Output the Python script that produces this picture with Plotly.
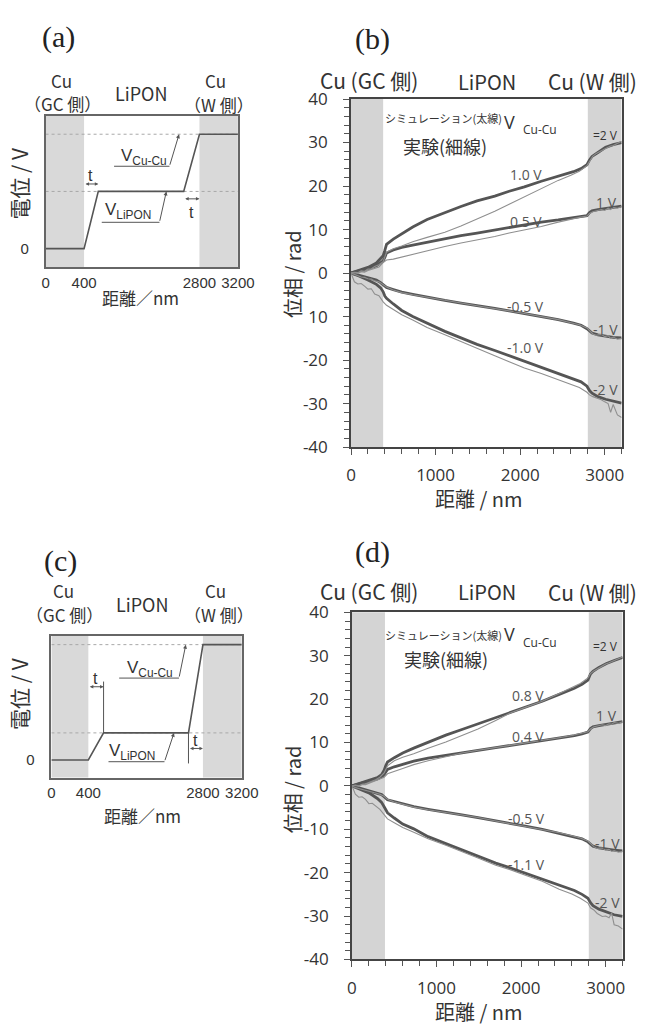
import plotly.graph_objects as go

W, H = 657, 1034

# ---------------- data ----------------
SCH_TICK_TEXT = ["0", "400", "2800", "3200"]
A_TICK_POS = [0, 1.0, 4.0, 5]
A_RAMP_X = [0, 1.0, 1.37, 3.59, 4.0, 5]
A_RAMP_V = [0, 0, 1.0, 1.0, 2.0, 2.0]
C_TICK_POS = [0, 0.97, 3.98, 5]
C_RAMP_X = [0, 0.97, 1.37, 3.6, 3.98, 5]
C_RAMP_V = [0, 0, 0.47, 0.47, 2.0, 2.0]

SIM_X = [0, 100, 200, 300, 350, 380, 400, 420, 500, 600, 730, 900, 1110, 1300, 1490,
         1700, 1870, 2050, 2250, 2450, 2630, 2720, 2790, 2820, 2850, 2920, 3010, 3100, 3200]
EXP_X = [0, 40, 80, 120, 160, 200, 240, 280, 330, 380, 420, 500, 600, 730, 900, 1110,
         1300, 1490, 1700, 1870, 2050, 2250, 2450, 2600, 2700, 2790, 2820, 2860, 2900,
         2960, 3000, 3040, 3070, 3100, 3150, 3200]

B_SIM = {
    "2V": [0, 0.6, 1.3, 2.3, 3.3, 4.0, 5.2, 6.6, 7.8, 9.0, 10.6, 12.3, 13.9, 15.3, 16.6,
           17.7, 18.8, 19.8, 21.1, 22.2, 23.3, 24.0, 24.9, 26.0, 26.8, 27.7, 28.9, 29.5, 30.0],
    "1V": [0, 0.5, 1.0, 1.7, 2.3, 2.8, 3.6, 4.6, 5.3, 5.9, 6.4, 7.1, 7.9, 8.6, 9.2,
           9.9, 10.6, 11.1, 11.7, 12.2, 12.7, 12.9, 13.2, 13.9, 14.3, 14.6, 14.9, 15.2, 15.4],
    "-1V": [0, -0.5, -1.1, -1.6, -2.2, -2.6, -3.0, -3.3, -3.8, -4.4, -4.9, -5.6, -6.3, -6.9, -7.4,
            -8.1, -8.7, -9.3, -9.9, -10.7, -11.5, -12.0, -12.8, -13.3, -13.8, -14.2, -14.5, -14.8, -14.9],
    "-2V": [0, -0.7, -1.6, -2.6, -3.4, -4.3, -5.3, -5.8, -7.1, -8.6, -10.0, -11.6, -13.4, -14.9, -16.4,
            -17.8, -19.0, -20.2, -21.6, -23.0, -24.3, -25.0, -26.0, -27.0, -27.6, -28.4, -29.0, -29.5, -29.9],
}
B_EXP = {
    "2V": [0, 0.2, 0.1, 0.5, 0.4, 0.9, 1.0, 1.5, 1.9, 2.6, 4.8, 5.6, 6.2, 7.2, 8.2, 9.4,
           10.8, 12.4, 14.2, 15.8, 17.5, 19.5, 21.3, 22.5, 23.4, 24.7, 25.8, 26.9, 27.5,
           28.2, 28.5, 28.9, 29.2, 29.3, 29.8, 30.3],
    "1V": [0, 0.1, -0.1, 0.3, 0.2, 0.6, 0.8, 1.0, 1.4, 2.4, 3.0, 3.2, 3.7, 4.2, 5.1, 6.1,
           6.9, 7.6, 8.4, 9.2, 9.9, 10.7, 11.7, 12.4, 12.8, 13.1, 13.7, 14.1, 14.3,
           14.6, 14.4, 14.9, 14.6, 15.1, 14.9, 15.3],
    "-1V": [0, -0.3, -0.5, -0.9, -1.0, -1.3, -1.4, -1.8, -2.0, -2.6, -3.2, -3.9, -4.5, -5.0, -5.6, -6.3,
            -6.9, -7.5, -8.1, -8.7, -9.3, -10.0, -10.7, -11.4, -11.9, -12.6, -13.3, -14.0, -14.3,
            -14.1, -14.6, -14.4, -15.0, -14.7, -15.2, -15.0],
    "-2V": [0, -2.0, -2.5, -2.4, -3.0, -3.7, -3.6, -4.8, -5.2, -6.6, -7.4, -8.3, -9.6, -10.8, -12.5, -14.2,
            -15.8, -17.4, -19.0, -20.4, -21.8, -23.1, -24.6, -25.6, -26.3, -27.4, -28.0, -28.4, -28.7,
            -29.1, -29.6, -30.0, -32.0, -30.2, -32.6, -33.2],
}
D_SIM = {
    "2V": [0, 0.6, 1.2, 1.9, 2.6, 3.6, 4.7, 5.5, 6.5, 7.6, 8.7, 10.1, 11.7, 13.0, 14.3,
           15.7, 16.9, 18.1, 19.5, 21.1, 22.5, 23.4, 24.4, 25.8, 26.4, 27.3, 28.2, 28.9, 29.6],
    "1V": [0, 0.5, 1.0, 1.6, 2.1, 2.6, 3.2, 3.8, 4.4, 5.0, 5.7, 6.4, 7.1, 7.7, 8.2,
           8.8, 9.3, 9.9, 10.5, 11.1, 11.6, 12.0, 12.4, 13.2, 13.6, 13.9, 14.2, 14.5, 14.8],
    "-1V": [0, -0.6, -1.2, -1.7, -2.0, -2.5, -2.9, -3.2, -3.6, -4.2, -4.8, -5.4, -6.0, -6.7, -7.3,
            -8.1, -8.7, -9.3, -10.0, -10.9, -11.7, -12.2, -12.9, -13.4, -13.9, -14.3, -14.6, -14.8, -15.0],
    "-2V": [0, -0.8, -1.6, -2.9, -3.8, -4.8, -5.6, -6.2, -7.4, -8.8, -9.9, -11.7, -13.3, -14.8, -16.3,
            -17.8, -18.9, -20.1, -21.5, -22.9, -24.1, -25.0, -25.9, -26.9, -27.6, -28.4, -29.1, -29.7, -30.1],
}
D_EXP = {
    "2V": [0, 0.2, 0.0, 0.4, 0.5, 0.8, 1.0, 1.4, 2.0, 3.0, 4.6, 5.8, 6.6, 7.4, 8.7, 10.1,
           11.6, 13.1, 15.1, 16.8, 18.1, 19.5, 21.3, 22.6, 23.6, 24.9, 25.9, 26.5, 27.0,
           27.7, 28.1, 28.4, 28.6, 28.9, 29.3, 29.7],
    "1V": [0, 0.1, -0.1, 0.3, 0.3, 0.6, 0.8, 1.1, 1.5, 2.0, 2.8, 3.4, 4.0, 4.9, 5.8, 6.7,
           7.6, 8.2, 8.8, 9.3, 9.9, 10.5, 11.1, 11.6, 12.0, 12.5, 13.1, 13.6, 13.8,
           14.1, 13.9, 14.3, 14.2, 14.6, 14.4, 14.8],
    "-1V": [0, -0.4, -0.6, -0.8, -1.1, -1.2, -1.5, -1.6, -1.9, -2.4, -3.1, -3.7, -4.3, -4.9, -5.5, -6.1,
            -6.7, -7.3, -8.1, -8.7, -9.3, -10.0, -10.8, -11.5, -12.0, -12.7, -13.3, -14.0, -14.4,
            -14.3, -14.8, -14.6, -15.1, -14.9, -15.3, -15.1],
    "-2V": [0, -1.9, -2.6, -2.5, -3.1, -4.1, -4.0, -4.6, -5.4, -6.6, -7.6, -8.5, -9.6, -10.7, -12.2, -13.7,
            -15.1, -16.6, -18.3, -19.3, -20.6, -22.0, -23.8, -24.9, -25.9, -27.0, -28.1, -28.6, -29.4,
            -30.1, -30.0, -30.4, -29.3, -32.0, -32.3, -33.0],
}
B_LIPON_LEFT, B_LIPON_RIGHT = 380, 2800
D_LIPON_LEFT, D_LIPON_RIGHT = 390, 2800
PHASE_TICKS = [-40, -30, -20, -10, 0, 10, 20, 30, 40]
B_PHASE_TEXT = ["-40", "-30", "-20", "10", "0", "10", "20", "30", "40"]
D_PHASE_TEXT = ["-40", "-30", "-20", "-10", "0", "10", "20", "30", "40"]
DIST_TICKS = [0, 1000, 2000, 3000]

B_LABELS = [("1.0 V", 539, 166), ("1 V", 622, 195), ("0.5 V", 539, 214), ("-0.5 V", 539, 301),
            ("-1 V", 621, 325), ("-1.0 V", 539, 343), ("-2 V", 621, 386)]
D_LABELS = [("0.8 V", 541, 699), ("1 V", 622, 720), ("0.4 V", 541, 741), ("-0.5 V", 540, 825),
            ("-1 V", 623, 850), ("-1.1 V", 540, 872), ("-2 V", 623, 911)]

# ---------------- helpers ----------------
def PX(x):
    return x / W

def PY(y):
    return 1 - y / H

JP = "Noto Sans CJK JP"
SANS = "Open Sans"
TXT = "#333333"
THICK = "#555555"
THIN = "#8f8f8f"

fig = go.Figure()
annotations = []
shapes = []

def text(t, x, y, size, family=JP, color=TXT, angle=0, xanchor="center"):
    annotations.append(dict(text=t, x=PX(x), y=PY(y), xref="paper", yref="paper",
                            showarrow=False, xanchor=xanchor, yanchor="middle",
                            textangle=angle, font=dict(family=family, size=size, color=color)))

# ---------------- schematic panels ----------------
def schematic(xa, ya, tick_pos, ramp_x, ramp_v, dom_x, dom_y, yr, lead, tarrows, ext):
    xn = "x" + xa[5:]
    yn = "y" + ya[5:]
    for x0, x1 in [(tick_pos[0], tick_pos[1]), (tick_pos[2], tick_pos[3])]:
        shapes.append(dict(type="rect", xref=xn, yref=yn + " domain", x0=x0, x1=x1, y0=0, y1=1,
                           fillcolor="#d9d9d9", line=dict(width=0), layer="below"))
    for lvl in [ramp_v[2], ramp_v[-1]]:
        fig.add_trace(go.Scatter(x=[tick_pos[0], tick_pos[-1]], y=[lvl, lvl], mode="lines",
                                 line=dict(color="#a8a8a8", width=1, dash="dot"),
                                 xaxis=xn, yaxis=yn, showlegend=False, hoverinfo="skip"))
    fig.add_trace(go.Scatter(x=ramp_x, y=ramp_v, mode="lines",
                             line=dict(color="#555555", width=1.6),
                             xaxis=xn, yaxis=yn, showlegend=False, hoverinfo="skip"))
    common = dict(showgrid=False, zeroline=False, showline=True, mirror=True,
                  linecolor="#666666", linewidth=1.5, ticks="", fixedrange=True,
                  tickfont=dict(family="Liberation Sans", size=15, color=TXT))
    fig.layout[xa] = dict(domain=dom_x, range=[tick_pos[0], tick_pos[-1]], anchor=yn,
                          tickmode="array", tickvals=tick_pos, ticktext=SCH_TICK_TEXT,
                          ticklabelstandoff=1, **common)
    fig.layout[ya] = dict(domain=dom_y, range=yr, anchor=xn, tickmode="array",
                          tickvals=[0], ticktext=["0"], ticklabelstandoff=12, **common)
    for lab, ux0, ux1, uy, tipx, tipv, tx, ty in lead:
        shapes.append(dict(type="line", xref=xn, yref=yn, x0=ux0, x1=ux1, y0=uy, y1=uy,
                           line=dict(color="#555555", width=1)))
        annotations.append(dict(x=tipx, y=tipv, ax=ux1, ay=uy, xref=xn, yref=yn, axref=xn,
                                ayref=yn, text="", showarrow=True, arrowhead=2, arrowsize=0.8,
                                arrowwidth=1, arrowcolor="#555555"))
        annotations.append(dict(x=tx, y=ty, xref=xn, yref=yn, text=lab, showarrow=False,
                                font=dict(family="Liberation Sans", size=17, color=TXT)))
    for x0, x1, yv, tlx, tly in tarrows:
        annotations.append(dict(x=x1, y=yv, ax=x0, ay=yv, xref=xn, yref=yn, axref=xn, ayref=yn,
                                text="", showarrow=True, arrowhead=2, arrowside="end+start",
                                arrowsize=0.7, arrowwidth=1, arrowcolor="#555555",
                                standoff=0, startstandoff=0))
        annotations.append(dict(x=tlx, y=tly, xref=xn, yref=yn, text="t", showarrow=False,
                                font=dict(family="Liberation Sans", size=16, color=TXT)))
    for ex, ey0, ey1 in ext:
        shapes.append(dict(type="line", xref=xn, yref=yn, x0=ex, x1=ex, y0=ey0, y1=ey1,
                           line=dict(color="#555555", width=1)))

schematic("xaxis", "yaxis", A_TICK_POS, A_RAMP_X, A_RAMP_V,
          [PX(42), PX(241)], [PY(261), PY(106)], [-0.325, 2.325],
          lead=[("V<sub>Cu-Cu</sub>", 1.78, 3.22, 1.44, 3.47, A_RAMP_V[-1], 2.56, 1.6),
                ("V<sub>LiPON</sub>", 1.46, 2.96, 0.46, 3.14, A_RAMP_V[2], 2.14, 0.66)],
          tarrows=[(A_RAMP_X[1], A_RAMP_X[2], 1.13, 1.18, 1.27),
                   (A_RAMP_X[3], A_RAMP_X[4], 0.87, 3.79, 0.63)],
          ext=[])
schematic("xaxis3", "yaxis3", C_TICK_POS, C_RAMP_X, C_RAMP_V,
          [PX(48), PX(245)], [PY(783), PY(638)], [-0.305, 2.153],
          lead=[("V<sub>Cu-Cu</sub>", 1.78, 3.35, 1.42, 3.53, C_RAMP_V[-1], 2.59, 1.58),
                ("V<sub>LiPON</sub>", 1.50, 2.97, -0.03, 3.22, C_RAMP_V[2], 2.11, 0.13)],
          tarrows=[(C_RAMP_X[1], C_RAMP_X[2], 1.27, 1.16, 1.42),
                   (C_RAMP_X[3], C_RAMP_X[4], 0.20, 3.79, 0.33)],
          ext=[(C_RAMP_X[2], C_RAMP_V[2], 1.36), (C_RAMP_X[3], C_RAMP_V[3], -0.06)])

# ---------------- phase panels ----------------
def phase(xa, ya, sim, exp, left, right, dom_x, dom_y, ticktext):
    xn = "x" + xa[5:]
    yn = "y" + ya[5:]
    for x0, x1 in [(0, left), (right, 3200)]:
        shapes.append(dict(type="rect", xref=xn, yref=yn + " domain", x0=x0, x1=x1, y0=0, y1=1,
                           fillcolor="#d4d4d4", line=dict(width=0), layer="below"))
    for k in ["2V", "1V", "-1V", "-2V"]:
        fig.add_trace(go.Scatter(x=SIM_X, y=sim[k], mode="lines",
                                 line=dict(color=THICK, width=2.8),
                                 xaxis=xn, yaxis=yn, showlegend=False, hoverinfo="skip"))
    for k in ["2V", "1V", "-1V", "-2V"]:
        fig.add_trace(go.Scatter(x=EXP_X, y=exp[k], mode="lines",
                                 line=dict(color=THIN, width=1.1),
                                 xaxis=xn, yaxis=yn, showlegend=False, hoverinfo="skip"))
    common = dict(showgrid=False, zeroline=False, showline=True, mirror=True,
                  linecolor="#444444", linewidth=1.6, ticks="outside", ticklen=6,
                  tickcolor="#555555", tickwidth=1, fixedrange=True,
                  tickfont=dict(family=SANS, size=17, color=TXT))
    fig.layout[xa] = dict(domain=dom_x, range=[0, 3200], anchor=yn, tickmode="array",
                          tickvals=DIST_TICKS, ticktext=[str(v) for v in DIST_TICKS],
                          ticklabelstandoff=6,
                          minor=dict(tickmode="linear", tick0=0, dtick=200, ticks="outside",
                                     ticklen=5, tickcolor="#555555", tickwidth=1),
                          **common)
    fig.layout[ya] = dict(domain=dom_y, range=[-40, 40], anchor=xn, tickmode="array",
                          tickvals=PHASE_TICKS, ticktext=ticktext, ticklabelstandoff=12,
                          minor=dict(tickmode="linear", tick0=-40, dtick=2, ticks="outside",
                                     ticklen=5, tickcolor="#555555", tickwidth=1),
                          **common)

phase("xaxis2", "yaxis2", B_SIM, B_EXP, B_LIPON_LEFT, B_LIPON_RIGHT,
      [PX(358), PX(638)], [PY(445), PY(89)], B_PHASE_TEXT)
phase("xaxis4", "yaxis4", D_SIM, D_EXP, D_LIPON_LEFT, D_LIPON_RIGHT,
      [PX(359), PX(639)], [PY(969), PY(614)], D_PHASE_TEXT)

# ---------------- texts ----------------
SERIF = "Liberation Serif"
text("(a)", 55, 26, 30, SERIF, "#222")
text("(b)", 380, 28, 30, SERIF, "#222")
text("(c)", 57, 562, 30, SERIF, "#222")
text("(d)", 380, 552, 30, SERIF, "#222")

for top, yoff in [(0, 0), (1, 522)]:
    text("Cu", 58 + 3 * top, 70 + yoff, 17)
    text("（GC 側）", 60 + 2 * top, 94 + yoff, 17)
    text("LiPON", 141 + top, 83 + yoff, 18)
    text("Cu", 218, 70 + yoff, 17)
    text("（W 側）", 221, 95 + yoff - 1 * top, 17)
    text("電位 / V", 15, 175 + yoff, 21, angle=-90)
    text("距離／nm", 140 + 2 * top, 292 + yoff + 8 * top, 17)

# (b)
text("Cu (GC 側)", 377, 70, 21)
text("LiPON", 499, 71, 20)
text("Cu (W 側)", 608, 71, 21)
text("シミュレーション(太線)", 454, 108, 11)
text("V", 522, 113, 18, SANS)
text("Cu-Cu", 554, 120, 12, SANS)
text("=2 V", 621, 126, 12, SANS)
text("実験(細線)", 455, 137, 18)
text("位相 / rad", 297, 268, 20, angle=-90)
text("距離 / nm", 490, 498, 20)
for t, x, y in B_LABELS:
    text(t, x, y, 14, SANS, "#555")

# (d)
text("Cu (GC 側)", 377, 592, 21)
text("LiPON", 499, 593, 20)
text("Cu (W 側)", 608, 593, 21)
text("シミュレーション(太線)", 454, 637, 11)
text("V", 522, 636, 18, SANS)
text("Cu-Cu", 554, 645, 12, SANS)
text("=2 V", 621, 649, 12, SANS)
text("実験(細線)", 456, 662, 18)
text("位相 / rad", 297, 795, 20, angle=-90)
text("距離 / nm", 490, 1022, 20)
for t, x, y in D_LABELS:
    text(t, x, y, 14, SANS, "#555")

fig.update_layout(width=W, height=H, margin=dict(l=0, r=0, t=0, b=0),
                  paper_bgcolor="white", plot_bgcolor="white",
                  annotations=annotations, shapes=shapes, showlegend=False)
fig.write_html("out.html", config={"displayModeBar": False},
               post_script="var gd=document.getElementById('{plot_id}');"
                           "gd.style.position='fixed';gd.style.left='0px';gd.style.top='0px';"
                           "document.body.style.margin='0';"
                           "document.documentElement.style.overflow='hidden';"
                           "document.body.style.overflow='hidden';")
